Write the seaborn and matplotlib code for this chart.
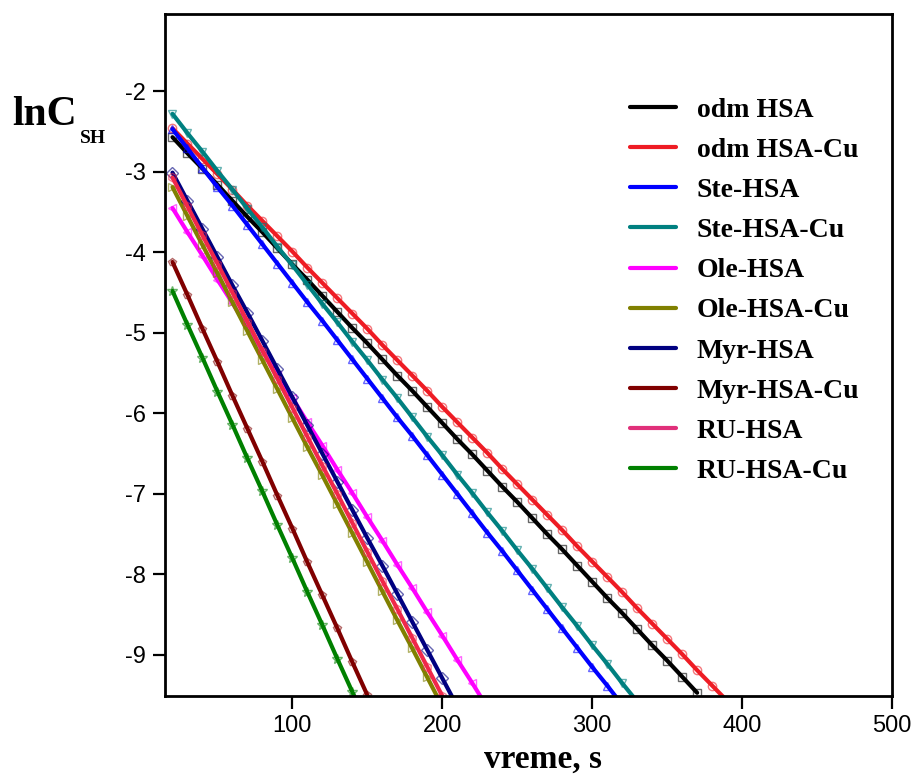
import matplotlib
matplotlib.use("Agg")
import matplotlib.pyplot as plt
from matplotlib.lines import Line2D
from matplotlib.colors import to_rgba
import seaborn as sns
import pandas as pd

# ---- data ----
time_s = [20, 30, 40, 50, 60, 70, 80, 90, 100, 110, 120, 130, 140, 150, 160,
          170, 180, 190, 200, 210, 220, 230, 240, 250, 260, 270, 280, 290, 300,
          310, 320, 330, 340, 350, 360, 370, 380, 390]

odm_hsa = [-2.57, -2.77, -2.96, -3.16, -3.36, -3.56, -3.75, -3.95, -4.15, -4.34,
           -4.54, -4.74, -4.94, -5.13, -5.33, -5.53, -5.72, -5.92, -6.12, -6.32,
           -6.51, -6.71, -6.91, -7.10, -7.30, -7.50, -7.69, -7.89, -8.09, -8.29,
           -8.48, -8.68, -8.88, -9.07, -9.27, -9.47]
odm_hsa_cu = [-2.46, -2.65, -2.84, -3.03, -3.22, -3.42, -3.61, -3.80, -3.99, -4.19,
              -4.38, -4.57, -4.76, -4.95, -5.15, -5.34, -5.53, -5.72, -5.92, -6.11,
              -6.30, -6.49, -6.69, -6.88, -7.07, -7.26, -7.45, -7.65, -7.84, -8.03,
              -8.22, -8.42, -8.61, -8.80, -8.99, -9.19, -9.38, -9.57]
ste_hsa = [-2.47, -2.71, -2.95, -3.19, -3.42, -3.66, -3.90, -4.14, -4.38, -4.62,
           -4.85, -5.09, -5.33, -5.57, -5.81, -6.05, -6.28, -6.52, -6.76, -7.00,
           -7.24, -7.48, -7.71, -7.95, -8.19, -8.43, -8.67, -8.91, -9.15, -9.38,
           -9.62]
ste_hsa_cu = [-2.28, -2.52, -2.75, -2.99, -3.22, -3.46, -3.69, -3.93, -4.16, -4.40,
              -4.64, -4.87, -5.11, -5.34, -5.58, -5.81, -6.05, -6.29, -6.52, -6.76,
              -6.99, -7.23, -7.46, -7.70, -7.93, -8.17, -8.41, -8.64, -8.88, -9.11,
              -9.35, -9.58]
ole_hsa = [-3.45, -3.75, -4.04, -4.34, -4.63, -4.93, -5.22, -5.52, -5.81, -6.11,
           -6.40, -6.70, -6.99, -7.29, -7.58, -7.88, -8.17, -8.47, -8.76, -9.06,
           -9.35, -9.65]
ole_hsa_cu = [-3.19, -3.55, -3.91, -4.26, -4.62, -4.98, -5.34, -5.70, -6.06, -6.42,
              -6.77, -7.13, -7.49, -7.85, -8.21, -8.57, -8.92, -9.28, -9.64]
myr_hsa = [-3.01, -3.36, -3.71, -4.06, -4.41, -4.75, -5.10, -5.45, -5.80, -6.15,
           -6.50, -6.85, -7.20, -7.55, -7.89, -8.24, -8.59, -8.94, -9.29, -9.64]
myr_hsa_cu = [-4.12, -4.53, -4.95, -5.36, -5.78, -6.19, -6.60, -7.02, -7.43, -7.85,
              -8.26, -8.67, -9.09, -9.50, -9.92]
ru_hsa = [-3.07, -3.43, -3.79, -4.14, -4.50, -4.86, -5.22, -5.57, -5.93, -6.29,
          -6.65, -7.00, -7.36, -7.72, -8.08, -8.43, -8.79, -9.15, -9.51, -9.86]
ru_hsa_cu = [-4.48, -4.90, -5.31, -5.73, -6.14, -6.56, -6.97, -7.39, -7.80, -8.22,
             -8.63, -9.05, -9.46, -9.88]

labels = ["odm HSA", "odm HSA-Cu", "Ste-HSA", "Ste-HSA-Cu", "Ole-HSA",
          "Ole-HSA-Cu", "Myr-HSA", "Myr-HSA-Cu", "RU-HSA", "RU-HSA-Cu"]
series = [odm_hsa, odm_hsa_cu, ste_hsa, ste_hsa_cu, ole_hsa,
          ole_hsa_cu, myr_hsa, myr_hsa_cu, ru_hsa, ru_hsa_cu]
colors = ["#000000", "#EE1C24", "#0000FF", "#008080", "#FF00FF",
          "#808000", "#000080", "#800000", "#F0284A", "#008000"]
legend_colors = ["#000000", "#EE1C24", "#0000FF", "#008080", "#FF00FF",
                 "#808000", "#000080", "#800000", "#E0307A", "#008000"]
markers = ["s", "o", "^", "v", "<", ">", "D", "p", "h", "*"]

x_ticks = [100, 200, 300, 400, 500]
y_ticks = [-2, -3, -4, -5, -6, -7, -8, -9]

# ---- figure ----
sns.set_style("ticks")
plt.rcParams["font.family"] = ["Liberation Sans", "DejaVu Sans"]
plt.rcParams["axes.unicode_minus"] = False
plt.rcParams["text.color"] = "black"
plt.rcParams["xtick.color"] = "black"
plt.rcParams["ytick.color"] = "black"
plt.rcParams["xtick.labelcolor"] = "black"
plt.rcParams["ytick.labelcolor"] = "black"

fig = plt.figure(figsize=(9.17, 7.77), dpi=100)
ax = fig.add_axes([165 / 917, 1 - 696 / 777, (892 - 165) / 917, (696 - 14) / 777])

for lab, ys, col, mk in zip(labels, series, colors, markers):
    df = pd.DataFrame({"t": time_s[:len(ys)], "lnC": ys})
    sns.lineplot(data=df, x="t", y="lnC", ax=ax, color=col, lw=3.0,
                 marker=mk, markersize=6 if mk != "*" else 7.5,
                 markerfacecolor="none",
                 markeredgecolor=to_rgba(col, 0.6),
                 markeredgewidth=1.0, legend=False, errorbar=None)

ax.set_xlim(15, 500)
ax.set_ylim(-9.51, -1.04)
ax.set_xticks(x_ticks)
ax.set_yticks(y_ticks)
ax.set_xlabel("")
ax.set_ylabel("")
ax.tick_params(axis="both", direction="out", length=9, width=1.6,
               labelsize=17, pad=5, top=False, right=False,
               colors="black", labelcolor="black")
for sp in ax.spines.values():
    sp.set_visible(True)
    sp.set_linewidth(2.0)
    sp.set_color("black")

# axis labels
serif_bold = dict(family=["Liberation Serif", "DejaVu Serif"], weight="bold", color="black")
fig.text(12 / 917, 1 - 125 / 777, "lnC", fontsize=30, ha="left", va="baseline", **serif_bold)
fig.text(80 / 917, 1 - 143 / 777, "SH", fontsize=14, ha="left", va="baseline", **serif_bold)
fig.text(543 / 917, 1 - 768 / 777, "vreme, s", fontsize=24, ha="center", va="baseline", **serif_bold)

# legend (lines only)
handles = [Line2D([0], [0], color=c, lw=3.0) for c in legend_colors]
leg = ax.legend(handles, labels, loc="upper left", bbox_to_anchor=(0.64, 0.878),
                frameon=False, borderaxespad=0, borderpad=0,
                handlelength=1.65, handletextpad=0.75, labelspacing=0.53,
                prop=dict(family="Liberation Serif", weight="bold", size=20))
for t in leg.get_texts():
    t.set_color("black")

fig.savefig("out.png", dpi=100)
